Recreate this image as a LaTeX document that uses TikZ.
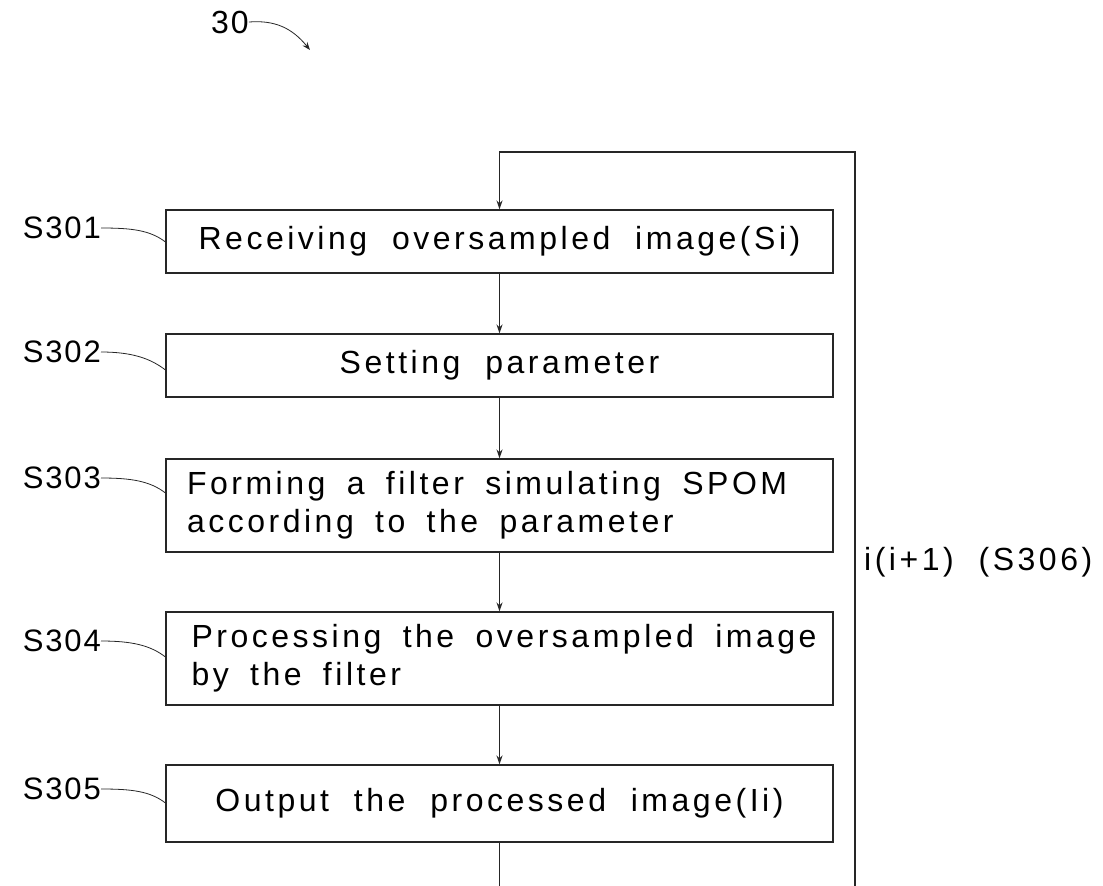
\documentclass[tikz,border=0pt]{standalone}
\usepackage{fontspec}
\setmainfont{Liberation Sans}[LetterSpace=6]
\newfontfamily\boxfont{Liberation Sans}[LetterSpace=11]
\usetikzlibrary{arrows.meta}
\begin{document}
\begin{tikzpicture}[x=1pt,y=-1pt,
  line/.style={draw=black!85,line width=1.1pt},
  stepbox/.style={line,minimum width=667pt,inner sep=0pt,font=\boxfont\fontsize{32}{38}\selectfont},
  lbl/.style={font=\fontsize{31}{36}\selectfont,inner sep=0pt,anchor=east},
  arr/.style={-{Stealth[length=9pt,width=6pt]}},
  lead/.style={draw=black!85,line width=0.8pt}]
\useasboundingbox (0,0) rectangle (1103,886);
\clip (0,0) rectangle (1103,886);
\node[stepbox,minimum height=63pt] (s1) at (499.5,241.5) {Receiving\ \ oversampled\ \ image(Si)};
\node[stepbox,minimum height=63pt] (s2) at (499.5,365.5) {Setting\ \ parameter};
\node[stepbox,minimum height=93pt,text width=625pt,align=left] (s3) at (499.5,505.5) {Forming\ \ a\ \ filter\ \ simulating\ \ SPOM\\according\ \ to\ \ the\ \ parameter};
\node[stepbox,minimum height=93pt,text width=620pt,align=left] (s4) at (499.5,658.5) {\hspace*{2pt}Processing\ \ the\ \ oversampled\ \ image\\\hspace*{2pt}by\ \ the\ \ filter};
\node[stepbox,minimum height=77pt] (s5) at (499.5,803.5) {Output\ \ the\ \ processed\ \ image(Ii)};
\draw[line,arr] (s1) -- (s2);
\draw[line,arr] (s2) -- (s3);
\draw[line,arr] (s3) -- (s4);
\draw[line,arr] (s4) -- (s5);
\draw[line,arr] (s5.south) -- (499.5,900) -- (855,900) -- (855,152) -- (499.5,152) -- (s1.north);
\node[font=\boxfont\fontsize{32}{36}\selectfont,inner sep=0pt,anchor=west] (s6) at (864,562) {i(i+1)\ \ (S306)};
\node[lbl] (l1) at (101,228) {S301};
\node[lbl] (l2) at (101,352) {S302};
\node[lbl] (l3) at (101,478) {S303};
\node[lbl] (l4) at (101,641) {S304};
\node[lbl] (l5) at (101,789) {S305};
\foreach \i/\y in {1/242,2/370,3/493,4/657,5/803}{
  \draw[lead] (l\i.east) .. controls ++(30,0) and (150,\y-12) .. (s\i.west |- 0,\y);
}
\node[font=\fontsize{32}{36}\selectfont,inner sep=0pt] (n30) at (230,22) {30};
\coordinate (t30) at (310,50);
\draw[lead,-{Stealth[length=8pt,width=6pt]}] (n30.east) .. controls (275,20) and (292,28) .. (t30);
\end{tikzpicture}
\end{document}
